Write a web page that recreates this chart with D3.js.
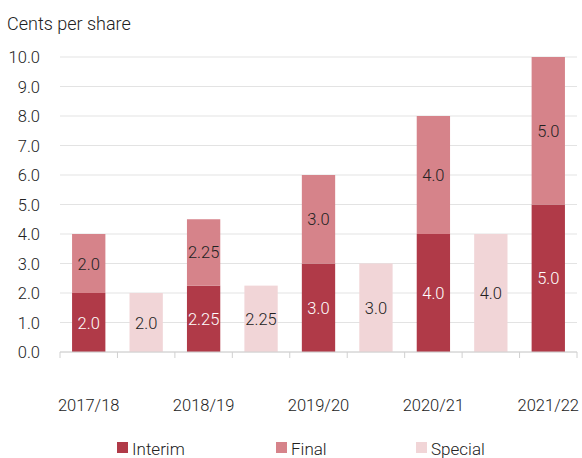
<!DOCTYPE html>
<html>
<head>
<meta charset="utf-8">
<script src="https://cdn.jsdelivr.net/npm/d3@7"></script>
<style>
  body { margin: 0; background: #fff; }
  text { font-family: Roboto, "Noto Sans", sans-serif; font-weight: 300; }
</style>
</head>
<body>
<svg id="chart" width="582" height="458"></svg>
<script>
// data
var years = ['2017/18', '2018/19', '2019/20', '2020/21', '2021/22'];
var interim = [2.0, 2.25, 3.0, 4.0, 5.0];
var finalDiv = [2.0, 2.25, 3.0, 4.0, 5.0];
var special = [2.0, 2.25, 3.0, 4.0];
var yTicks = [0, 1, 2, 3, 4, 5, 6, 7, 8, 9, 10];
var seriesNames = ['Interim', 'Final', 'Special'];
var colors = ['#b03a48', '#d6838a', '#f1d5d7'];

function fmt(v) { return v === 2.25 ? '2.25' : v.toFixed(1); }

// interleave year slots and special slots
var slots = [];
years.forEach(function(y, i) {
    slots.push('y' + i);
    if (i < special.length) slots.push('s' + i);
});

var svg = d3.select('#chart');
var margin = {l: 60, r: 5, t: 57, b: 106};
var width = 582 - margin.l - margin.r;
var height = 458 - margin.t - margin.b;

var x = d3.scaleBand().domain(slots).range([margin.l, margin.l + width]).paddingInner(0.42).paddingOuter(0.21);
var y = d3.scaleLinear().domain([0, 10]).range([margin.t + height, margin.t]);

// title
svg.append('text').attr('x', 7).attr('y', 30).attr('font-size', 18).attr('fill', '#222').text('Cents per share');

// grid
svg.append('g').selectAll('line').data(yTicks).enter().append('line')
    .attr('x1', margin.l).attr('x2', margin.l + width)
    .attr('y1', function(d) { return y(d); }).attr('y2', function(d) { return y(d); })
    .attr('stroke', '#e3e3e3').attr('stroke-width', 1);

svg.append('g').selectAll('text').data(yTicks).enter().append('text')
    .attr('x', 40).attr('y', function(d) { return y(d) + 6; })
    .attr('text-anchor', 'end').attr('font-size', 16.5).attr('fill', '#222')
    .text(function(d) { return d.toFixed(1); });

// bars
var stacked = years.map(function(yr, i) {
    return {slot: 'y' + i, interim: interim[i], fin: finalDiv[i]};
});
var bw = x.bandwidth();
var g = svg.append('g');
stacked.forEach(function(d) {
    g.append('rect').attr('x', x(d.slot)).attr('width', bw)
        .attr('y', y(d.interim)).attr('height', y(0) - y(d.interim)).attr('fill', colors[0]);
    g.append('rect').attr('x', x(d.slot)).attr('width', bw)
        .attr('y', y(d.interim + d.fin)).attr('height', y(d.interim) - y(d.interim + d.fin)).attr('fill', colors[1]);
    g.append('text').attr('x', x(d.slot) + bw / 2).attr('y', (y(0) + y(d.interim)) / 2 + 6)
        .attr('text-anchor', 'middle').attr('font-size', 16.5).attr('fill', '#fff').text(fmt(d.interim));
    g.append('text').attr('x', x(d.slot) + bw / 2).attr('y', (y(d.interim) + y(d.interim + d.fin)) / 2 + 6)
        .attr('text-anchor', 'middle').attr('font-size', 16.5).attr('fill', '#222').text(fmt(d.fin));
});
special.forEach(function(v, i) {
    var s = 's' + i;
    g.append('rect').attr('x', x(s)).attr('width', bw)
        .attr('y', y(v)).attr('height', y(0) - y(v)).attr('fill', colors[2]);
    g.append('text').attr('x', x(s) + bw / 2).attr('y', (y(0) + y(v)) / 2 + 6)
        .attr('text-anchor', 'middle').attr('font-size', 16.5).attr('fill', '#222').text(fmt(v));
});

// x axis
var step = x.step();
var axisY = y(0);
svg.append('line').attr('x1', margin.l).attr('x2', margin.l + width).attr('y1', axisY).attr('y2', axisY)
    .attr('stroke', '#d0d0d0');
var tickXs = d3.range(slots.length + 1).map(function(i) { return margin.l + i * step; });
svg.append('g').selectAll('line').data(tickXs).enter().append('line')
    .attr('x1', function(d) { return d; }).attr('x2', function(d) { return d; })
    .attr('y1', axisY).attr('y2', axisY + 6).attr('stroke', '#d0d0d0');

svg.append('g').selectAll('text').data(years).enter().append('text')
    .attr('x', function(d, i) { return x('y' + i) + bw / 2; }).attr('y', 411)
    .attr('text-anchor', 'middle').attr('font-size', 16.5).attr('fill', '#222')
    .text(function(d) { return d; });

// legend
var legX = [117, 276, 416];
var leg = svg.append('g').selectAll('g').data(seriesNames).enter().append('g')
    .attr('transform', function(d, i) { return 'translate(' + legX[i] + ',442)'; });
leg.append('rect').attr('width', 11).attr('height', 11).attr('fill', function(d, i) { return colors[i]; });
leg.append('text').attr('x', 15).attr('y', 13).attr('font-size', 17).attr('fill', '#222').text(function(d) { return d; });
</script>
</body>
</html>
